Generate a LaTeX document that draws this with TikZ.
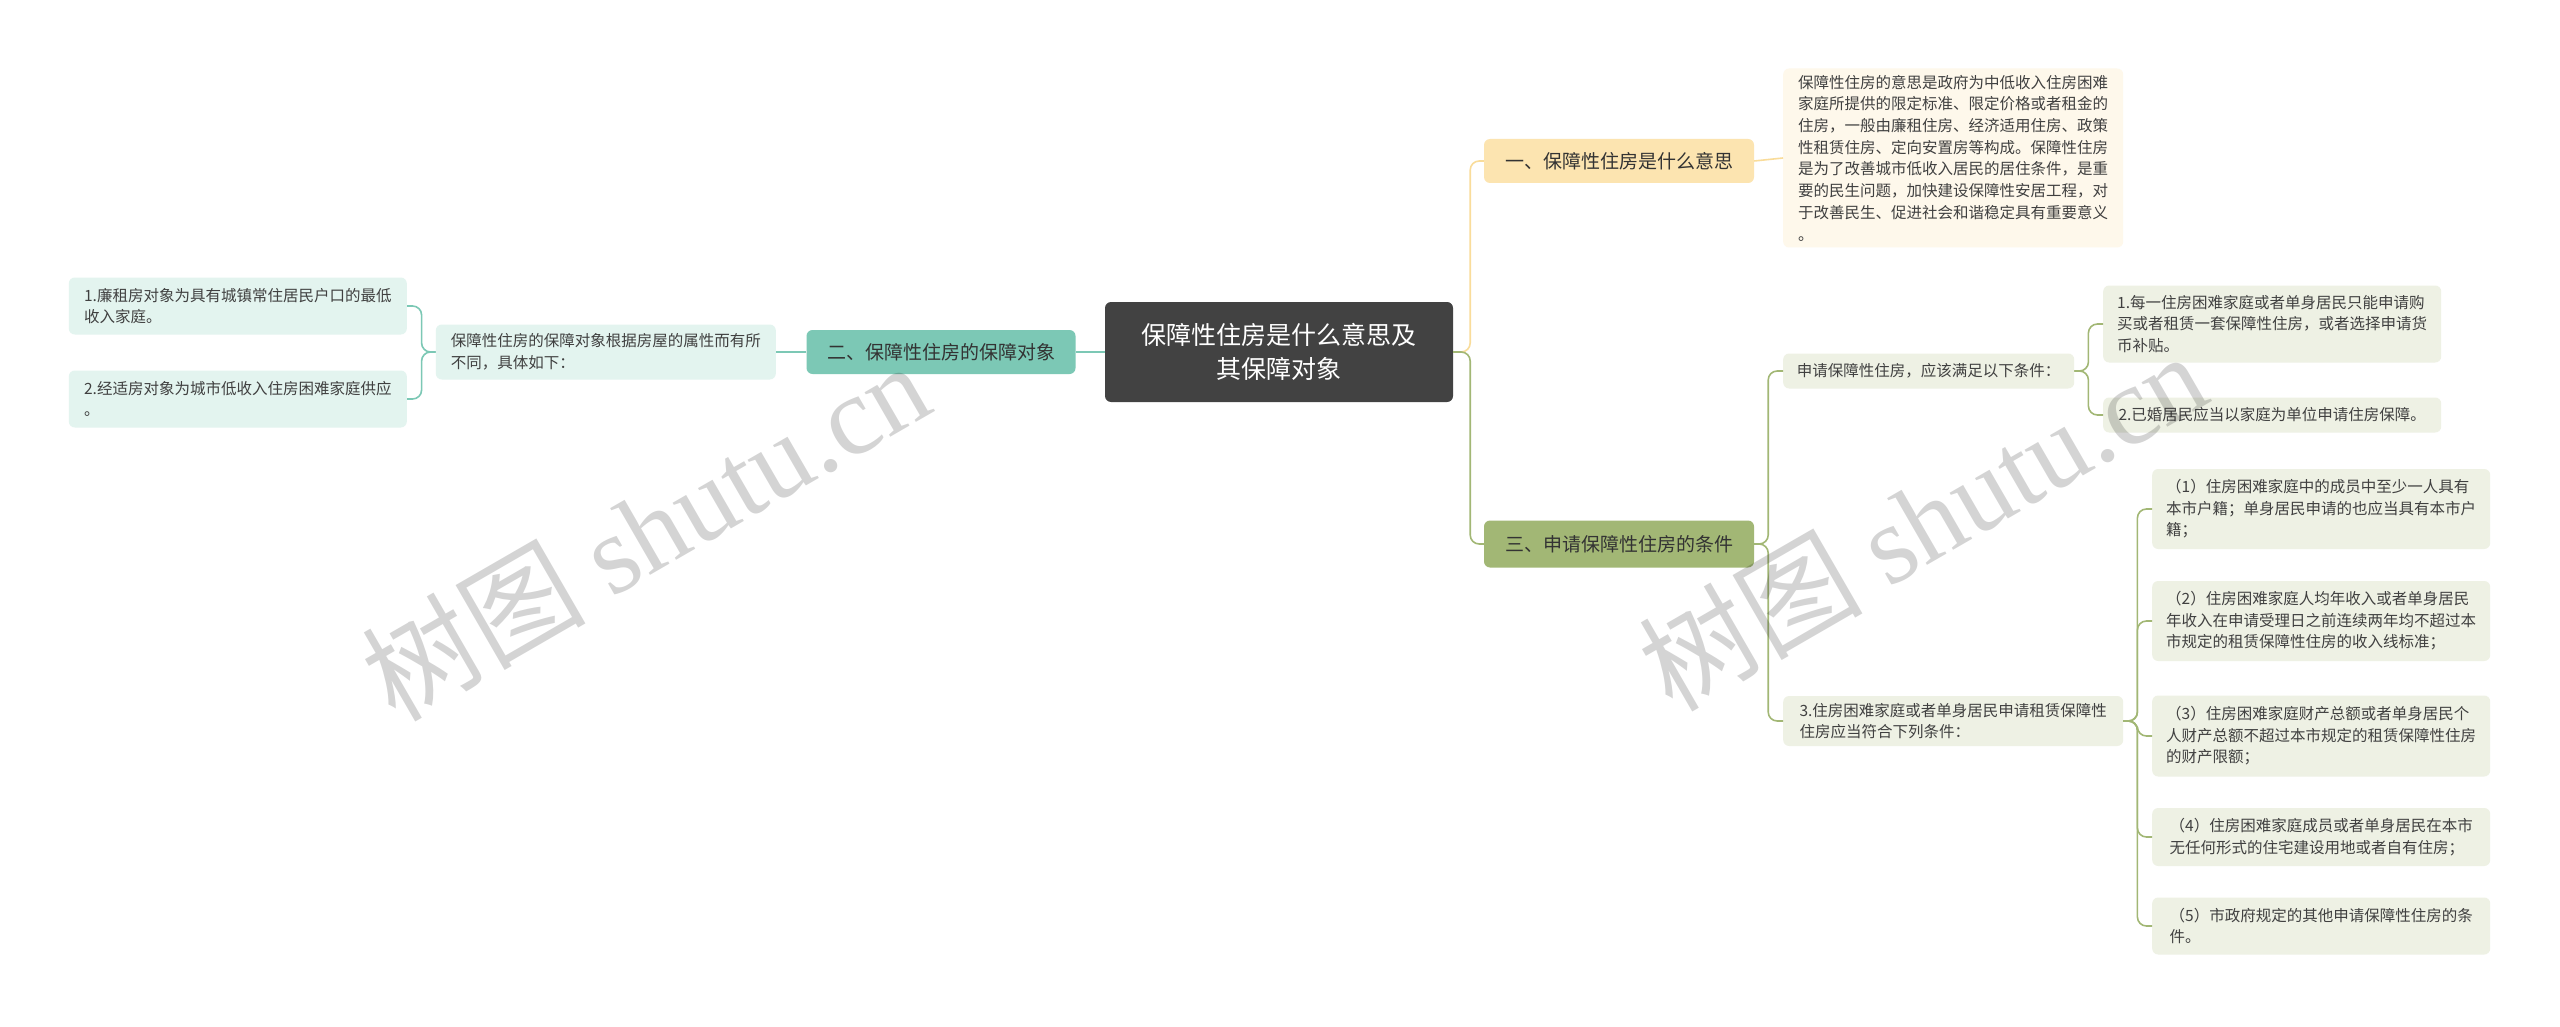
\documentclass[tikz,border=0pt]{standalone}
\usepackage{fontspec}
\setmainfont{Noto Sans CJK SC}
\newfontfamily\wmfont{Liberation Serif}
\newfontfamily\wmcjk{Noto Sans CJK SC}
\begin{document}
\begin{tikzpicture}[x=1pt,y=-1pt,
  box/.style={rounded corners=6pt,inner sep=0pt,align=left,anchor=north west},
  leafg/.style={box,fill=lgf,text=black!75,font=\fontsize{15.5}{21.5}\selectfont},
  leaft/.style={box,fill=ltf,text=black!75,font=\fontsize{15.5}{21.5}\selectfont},
  ln/.style={line width=1.6pt,rounded corners=9pt},
  wm/.style={text=black,text opacity=0.17,rotate=30,font=\fontsize{112}{112}\selectfont}]
\definecolor{lgf}{HTML}{EEF1E4}
\definecolor{ltf}{HTML}{E3F4EF}
\definecolor{orl}{HTML}{F9DC9A}
\definecolor{orf}{HTML}{FCE4B0}
\definecolor{grl}{HTML}{A2B775}
\definecolor{tel}{HTML}{7CC8B5}
\useasboundingbox (0,0) rectangle (2560,1027);
\fill[white] (0,0) rectangle (2560,1027);
% center
\node[box,fill=black!74,text=white,minimum width=348,minimum height=100,align=center,anchor=center,font=\fontsize{25}{34}\selectfont] (c) at (1279,352) {保障性住房是什么意思及\\其保障对象};
% branches
\node[box,fill=orf,minimum width=270,minimum height=44,anchor=center,text=black!80,font=\fontsize{19}{24}\selectfont] (b1) at (1619,161) {一、保障性住房是什么意思};
\node[box,fill=tel,minimum width=269,minimum height=44,anchor=center,text=black!80,font=\fontsize{19}{24}\selectfont] (b2) at (941,352) {二、保障性住房的保障对象};
\node[box,fill=grl,minimum width=270,minimum height=47,anchor=center,text=black!80,font=\fontsize{19}{24}\selectfont] (b3) at (1619,544) {三、申请保障性住房的条件};
% desc
\node[box,fill=orf!25,minimum width=340,minimum height=179,anchor=west,text=black!75,font=\fontsize{15.5}{21.7}\selectfont,inner xsep=10pt] (d) at (1783,158) {保障性住房的意思是政府为中低收入住房困难\\家庭所提供的限定标准、限定价格或者租金的\\住房，一般由廉租住房、经济适用住房、政策\\性租赁住房、定向安置房等构成。保障性住房\\是为了改善城市低收入居民的居住条件，是重\\要的民生问题，加快建设保障性安居工程，对\\于改善民生、促进社会和谐稳定具有重要意义\\。};
% left
\node[leaft,minimum width=340,minimum height=55,anchor=east,inner xsep=8pt] (lm) at (776,352) {保障性住房的保障对象根据房屋的属性而有所\\不同，具体如下：};
\node[leaft,minimum width=338,minimum height=57,anchor=east,inner xsep=8pt] (l1) at (407,306) {1.廉租房对象为具有城镇常住居民户口的最低\\收入家庭。};
\node[leaft,minimum width=338,minimum height=57,anchor=east,inner xsep=8pt] (l2) at (407,399) {2.经适房对象为城市低收入住房困难家庭供应\\。};
% right
\node[leafg,minimum width=291,minimum height=35,anchor=west,inner xsep=8pt] (s1) at (1783,371) {申请保障性住房，应该满足以下条件：};
\node[leafg,minimum width=338,minimum height=77,anchor=west,inner xsep=8pt] (s11) at (2103,324) {1.每一住房困难家庭或者单身居民只能申请购\\买或者租赁一套保障性住房，或者选择申请货\\币补贴。};
\node[leafg,minimum width=338,minimum height=35,anchor=west,inner xsep=8pt] (s12) at (2103,415) {2.已婚居民应当以家庭为单位申请住房保障。};
\node[leafg,minimum width=340,minimum height=50,anchor=west,inner xsep=8pt] (s2) at (1783,721) {3.住房困难家庭或者单身居民申请租赁保障性\\住房应当符合下列条件：};
\node[leafg,minimum width=338,minimum height=80,anchor=west,inner xsep=8pt] (p1) at (2152,509) {（1）住房困难家庭中的成员中至少一人具有\\本市户籍；单身居民申请的也应当具有本市户\\籍；};
\node[leafg,minimum width=338,minimum height=80,anchor=west,inner xsep=8pt] (p2) at (2152,621) {（2）住房困难家庭人均年收入或者单身居民\\年收入在申请受理日之前连续两年均不超过本\\市规定的租赁保障性住房的收入线标准；};
\node[leafg,minimum width=338,minimum height=81,anchor=west,inner xsep=8pt] (p3) at (2152,736) {（3）住房困难家庭财产总额或者单身居民个\\人财产总额不超过本市规定的租赁保障性住房\\的财产限额；};
\node[leafg,minimum width=338,minimum height=58,anchor=west,inner xsep=8pt] (p4) at (2152,837) {（4）住房困难家庭成员或者单身居民在本市\\无任何形式的住宅建设用地或者自有住房；};
\node[leafg,minimum width=338,minimum height=57,anchor=west,inner xsep=8pt] (p5) at (2152,926) {（5）市政府规定的其他申请保障性住房的条\\件。};
% connectors
\draw[ln,orl] (c.east) -- ++(17,0) |- (b1.west);
\draw[ln,grl] (c.east) -- ++(17,0) |- (b3.west);
\draw[ln,tel] (c.west) -- (b2.east);
\draw[ln,tel] (b2.west) -- (lm.east);
\draw[ln,tel] (lm.west) -- ++(-14,0) |- (l1.east);
\draw[ln,tel] (lm.west) -- ++(-14,0) |- (l2.east);
\draw[ln,orl] (b1.east) -- (d.west);
\draw[ln,grl] (b3.east) -- ++(14,0) |- (s1.west);
\draw[ln,grl] (b3.east) -- ++(14,0) |- (s2.west);
\draw[ln,grl] (s1.east) -- ++(14,0) |- (s11.west);
\draw[ln,grl] (s1.east) -- ++(14,0) |- (s12.west);
\foreach \p in {p1,p2,p3,p4,p5} \draw[ln,grl] (s2.east) -- ++(14,0) |- (\p.west);
% watermarks
\node[wm] (w1) at (645,530) {\wmcjk 树图 \wmfont shutu.cn};
\node[wm] (w2) at (1922,520) {\wmcjk 树图 \wmfont shutu.cn};
\end{tikzpicture}
\end{document}
